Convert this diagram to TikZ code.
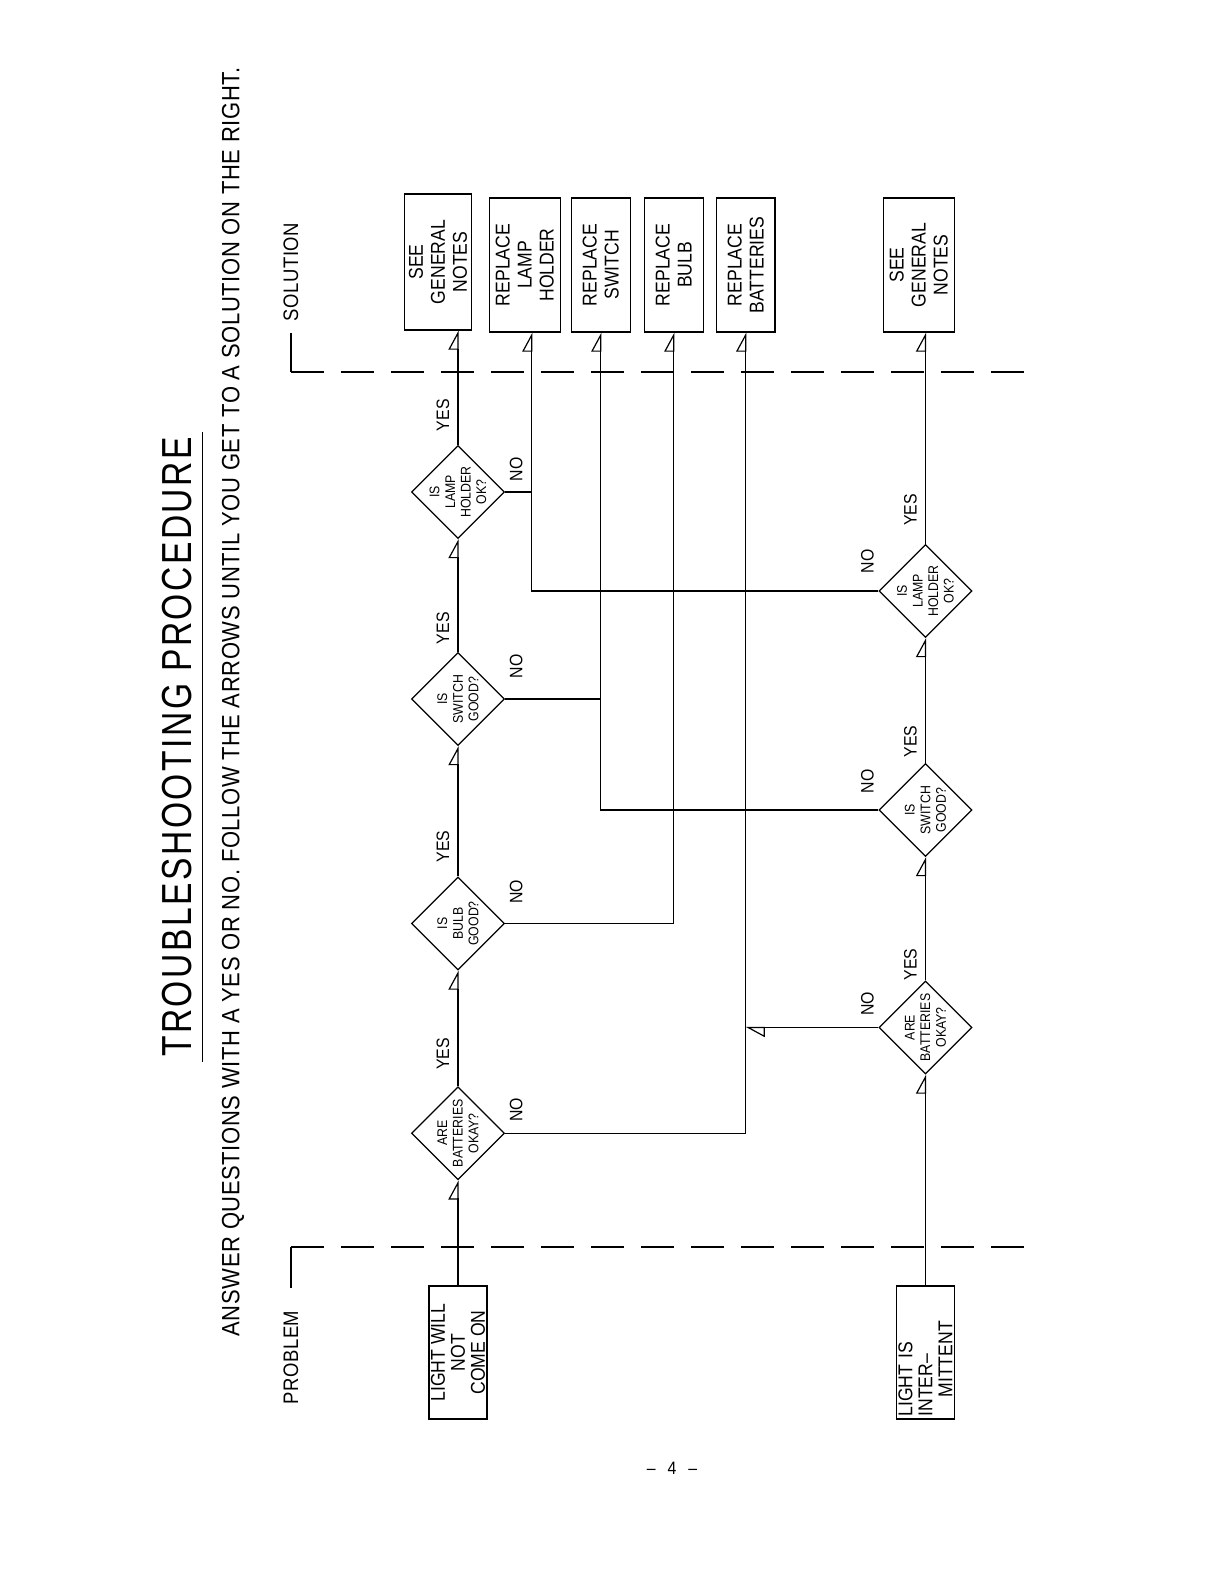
\documentclass[tikz,border=0pt]{standalone}
\usepackage{fontspec}
\setmainfont{Liberation Sans}[FakeStretch=0.88]
\newfontfamily\ttlfont{Liberation Sans}[FakeStretch=0.8,LetterSpace=6]
\newfontfamily\subfont{Liberation Sans}[FakeStretch=0.88,LetterSpace=2.5]
\usetikzlibrary{arrows.meta,positioning,shapes.geometric}

\begin{document}
\begin{tikzpicture}[x=0.5pt,y=0.5pt,rotate=90,transform shape,line width=0.6pt,
 >={Triangle[open,harpoon,length=9pt,width=9.6pt]},
 box/.style={draw,align=center,inner sep=1pt,minimum width=67pt,font=\fontsize{10}{11}\selectfont},
 qn/.style={draw,diamond,aspect=1,inner sep=-5pt,minimum width=46.5pt,minimum height=46.5pt,align=center,font=\fontsize{7}{7.8}\selectfont},
 lbl/.style={font=\fontsize{9}{9}\selectfont,inner sep=0.5pt},
 hd/.style={font=\subfont\fontsize{10.5}{10.5}\selectfont,inner sep=0pt},
 bnd/.style={dash pattern=on 16.5pt off 8.5pt}]
\useasboundingbox (0,0) rectangle (1584,1224);
\node[font=\ttlfont\fontsize{21}{21}\selectfont,inner xsep=2pt,inner ysep=5pt] (ttl) at (837,1047) {TROUBLESHOOTING PROCEDURE};
\draw (ttl.south west) -- (ttl.south east);
\node[font=\subfont\fontsize{12.5}{12.5}\selectfont] (sub) at (882,991) {ANSWER QUESTIONS WITH A YES OR NO. FOLLOW THE ARROWS UNTIL YOU GET TO A SOLUTION ON THE RIGHT.};
\node[hd] (prb) at (226.5,933) {PROBLEM};
\node[hd] (sol) at (1312,933) {SOLUTION};
\coordinate (prbt) at (296,933);
\coordinate (prbc) at (337,933);
\coordinate (prbe) at (337,196);
\coordinate (solt) at (1251,933);
\coordinate (solc) at (1212,933);
\coordinate (sole) at (1212,196);
\draw (prbt) -- (prbc);
\draw[bnd] (prbc) -- (prbe);
\draw (solt) -- (solc);
\draw[bnd] (solc) -- (sole);
\node[box,minimum width=66.5pt,minimum height=29pt,inner sep=0.5pt,font=\fontsize{10}{10}\selectfont] (p1) at (231.5,766) {LIGHT WILL\\NOT\\COME ON};
\node[box,minimum width=66.5pt,minimum height=29pt,inner sep=0.5pt,text width=64pt,align=left,font=\fontsize{10}{10}\selectfont] (p2) at (231.5,298.5) {LIGHT IS\\INTER--\\\hspace{9.5pt}MITTENT};
\node[box,minimum width=68pt,minimum height=33.7pt] (s1) at (1322,786) {SEE\\GENERAL\\NOTES};
\node[box,minimum height=35.5pt] (s2) at (1319,699.2) {REPLACE\\LAMP\\HOLDER};
\node[box,minimum height=29.5pt] (s3) at (1319,623.2) {REPLACE\\SWITCH};
\node[box,minimum height=29.5pt] (s4) at (1319,550.2) {REPLACE\\BULB};
\node[box,minimum height=29.3pt] (s5) at (1319,478.3) {REPLACE\\BATTERIES};
\node[box,minimum height=35.5pt] (s6) at (1319,305.2) {SEE\\GENERAL\\NOTES};
\node[qn] (t1) at (450.7,766) {ARE\\BATTERIES\\OKAY?};
\node[qn] (t2) at (660.5,766) {IS\\BULB\\GOOD?};
\node[qn] (t3) at (885,766) {IS\\SWITCH\\GOOD?};
\node[qn] (t4) at (1092,766) {IS\\LAMP\\HOLDER\\OK?};
\node[qn] (b1) at (556.5,298.5) {ARE\\BATTERIES\\OKAY?};
\node[qn] (b2) at (774,298.5) {IS\\SWITCH\\GOOD?};
\node[qn] (b3) at (993,298.5) {IS\\LAMP\\HOLDER\\OK?};
\draw[->] (p1) -- (t1);
\draw[->] (t1) -- node[lbl,above=3.5pt,pos=0.28]{YES} (t2);
\draw[->] (t2) -- node[lbl,above=3.5pt,pos=0.23]{YES} (t3);
\draw[->] (t3) -- node[lbl,above=3.5pt,pos=0.21]{YES} (t4);
\draw[->] (t4.east) -- node[lbl,above=3.5pt,pos=0.26]{YES} (t4.east -| s1.west);
\draw[->] (p2) -- (b1);
\draw[->] (b1) -- node[lbl,above=3.5pt,pos=0.13]{YES} (b2);
\draw[->] (b2) -- node[lbl,above=3.5pt,pos=0.17]{YES} (b3);
\draw[->] (b3.east) -- node[lbl,above=3.5pt,pos=0.16]{YES} (b3.east -| s6.west);
\node[lbl,below right=1.5pt and 5pt of t1.south] {NO};
\node[lbl,below right=1.5pt and 9pt of t2.south] {NO};
\node[lbl,below right=1.5pt and 9.5pt of t3.south] {NO};
\node[lbl,below right=1.5pt and 4.5pt of t4.south] {NO};
\node[lbl,above right=1.5pt and 5pt of b1.north] {NO};
\node[lbl,above right=1.5pt and 7.5pt of b2.north] {NO};
\node[lbl,above right=1.5pt and 8pt of b3.north] {NO};
\coordinate (s2in) at ([yshift=-3.5pt]s2.west);
\draw[->] (t1.south) |- (s5.west);
\draw[->] (b1.north) -- (b1.north |- s5.west);
\draw[->] (t2.south) |- (s4.west);
\draw (t3.south) -- (t3.south |- s3.west);
\draw[->] (b2.north) |- (s3.west);
\draw (t4.south) -- (t4.south |- s2in);
\draw[->] (b3.north) |- (s2in);
\node[rotate=-90,font=\fontsize{9}{9}\selectfont] (pg) at (116,552) {--\hspace{6pt}4\hspace{6pt}--};
\end{tikzpicture}
\end{document}
